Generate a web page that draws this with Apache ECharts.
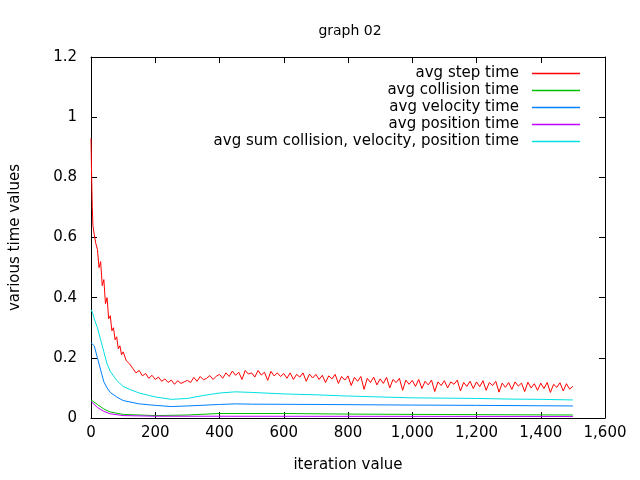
<!DOCTYPE html>
<html lang="en">
<head>
<meta charset="utf-8">
<title>graph 02</title>
<script src="https://cdn.jsdelivr.net/npm/echarts@6/dist/echarts.min.js"></script>
</head>
<body style="margin:0">
<div id="container" style="width:640px;height:480px"></div>
<script type="text/javascript">
	var seriesNames = ['avg step time', 'avg collision time', 'avg velocity time', 'avg position time', 'avg sum collision, velocity, position time'];
	var seriesColors = ['#ff0000', '#00c000', '#0080ff', '#c000ff', '#00e0e0'];

	// step time, start of the run (irregular sampling)
	var stepHeadX = [0, 2, 4, 6, 10, 15, 20, 25, 30, 35, 40, 45, 50, 55, 60, 65, 70, 75, 80, 85, 90, 95, 100, 110, 120, 130, 140, 150, 160, 170, 180, 190, 200, 210, 220, 230, 240, 250, 260, 270, 280, 290];
	var stepHeadY = [0.93, 0.80, 0.70, 0.64, 0.61, 0.58, 0.56, 0.50, 0.52, 0.44, 0.46, 0.38, 0.40, 0.33, 0.34, 0.29, 0.30, 0.26, 0.27, 0.23, 0.24, 0.21, 0.22, 0.19, 0.18, 0.165, 0.15, 0.158, 0.14, 0.148, 0.132, 0.142, 0.128, 0.136, 0.122, 0.130, 0.118, 0.126, 0.112, 0.124, 0.115, 0.120];
	// step time from 300 to 1500, one value every 10 iterations
	var stepTailY = [
		0.125, 0.118, 0.135, 0.122, 0.138, 0.127, 0.132, 0.141, 0.128, 0.139,
		0.145, 0.132, 0.150, 0.138, 0.156, 0.142, 0.152, 0.128, 0.158, 0.146,
		0.150, 0.136, 0.158, 0.143, 0.152, 0.125, 0.155, 0.140, 0.150, 0.138,
		0.148, 0.132, 0.150, 0.128, 0.145, 0.136, 0.150, 0.122, 0.146, 0.133,
		0.145, 0.128, 0.142, 0.118, 0.140, 0.130, 0.145, 0.115, 0.138, 0.126,
		0.140, 0.108, 0.135, 0.122, 0.138, 0.095, 0.132, 0.118, 0.136, 0.110,
		0.130, 0.115, 0.135, 0.100, 0.128, 0.118, 0.132, 0.092, 0.126, 0.112,
		0.125, 0.105, 0.128, 0.098, 0.122, 0.110, 0.126, 0.088, 0.120, 0.108,
		0.124, 0.100, 0.120, 0.112, 0.126, 0.090, 0.118, 0.105, 0.122, 0.098,
		0.120, 0.104, 0.124, 0.092, 0.118, 0.108, 0.122, 0.086, 0.116, 0.102,
		0.118, 0.095, 0.120, 0.106, 0.116, 0.088, 0.119, 0.100, 0.114, 0.092,
		0.116, 0.098, 0.118, 0.085, 0.112, 0.102, 0.117, 0.090, 0.114, 0.096,
		0.105
	];

	var sumX = [0, 5, 10, 20, 30, 40, 50, 60, 70, 80, 90, 100, 120, 150, 200, 250, 300, 350, 400, 450, 500, 600, 700, 800, 900, 1000, 1100, 1200, 1300, 1400, 1500];
	var sumY = [0.36, 0.35, 0.33, 0.30, 0.26, 0.22, 0.18, 0.155, 0.14, 0.125, 0.115, 0.105, 0.095, 0.083, 0.070, 0.062, 0.065, 0.075, 0.083, 0.087, 0.085, 0.080, 0.077, 0.073, 0.070, 0.067, 0.066, 0.065, 0.063, 0.062, 0.060];

	var velX = [0, 5, 10, 20, 30, 40, 50, 60, 80, 100, 150, 200, 250, 300, 400, 450, 500, 700, 1000, 1200, 1500];
	var velY = [0.25, 0.245, 0.24, 0.20, 0.16, 0.12, 0.10, 0.085, 0.070, 0.058, 0.047, 0.042, 0.038, 0.040, 0.045, 0.047, 0.046, 0.045, 0.043, 0.042, 0.040];

	var colX = [0, 20, 40, 60, 100, 200, 300, 400, 600, 800, 1000, 1500];
	var colY = [0.06, 0.045, 0.030, 0.020, 0.012, 0.008, 0.010, 0.015, 0.015, 0.013, 0.012, 0.010];

	var posX = [0, 20, 40, 60, 100, 200, 1500];
	var posY = [0.055, 0.035, 0.022, 0.014, 0.008, 0.006, 0.005];

	var yTicks = [0, 0.2, 0.4, 0.6, 0.8, 1, 1.2];

	function pairs(xs, ys) {
		return xs.map(function (x, i) { return [x, ys[i]]; });
	}

	var stepData = pairs(stepHeadX, stepHeadY);
	for (var i = 0; i < stepTailY.length; i++) {
		stepData.push([300 + i * 10, stepTailY[i]]);
	}

	var font = 'DejaVu Sans';
	var axisBase = {
		axisLine: { show: true, onZero: false, lineStyle: { color: '#000' } },
		axisTick: { show: true, inside: true, length: 6, lineStyle: { color: '#000' } },
		splitLine: { show: false }
	};

	var myChart = echarts.init(document.getElementById('container'));
	var option = {
		animation: false,
		backgroundColor: '#fff',
		textStyle: { fontFamily: font },
		title: {
			text: 'graph 02', left: 345, top: 19, textAlign: 'center',
			textStyle: { fontFamily: font, fontSize: 14, fontWeight: 'normal', color: '#000' }
		},
		legend: {
			orient: 'vertical', right: 55, top: 61, align: 'right',
			icon: 'rect', itemWidth: 48, itemHeight: 1.5, itemGap: 2,
			textStyle: { fontFamily: font, fontSize: 15, color: '#000', padding: [0, 8, 0, 0] },
			data: seriesNames
		},
		grid: { left: 91, right: 35, top: 57, bottom: 62 },
		xAxis: [
			Object.assign({
				type: 'value', min: 0, max: 1600, interval: 200,
				name: 'iteration value', nameLocation: 'middle', nameGap: 40,
				nameTextStyle: { fontFamily: font, fontSize: 15, color: '#000' },
				axisLabel: { fontFamily: font, fontSize: 15, color: '#000', margin: 8, formatter: '{value}' }
			}, axisBase),
			Object.assign({
				type: 'value', min: 0, max: 1600, interval: 200, position: 'top',
				axisLabel: { show: false }
			}, axisBase)
		],
		yAxis: [
			Object.assign({
				type: 'value', min: 0, max: 1.2, interval: 0.2,
				name: 'various time values', nameLocation: 'middle', nameGap: 68,
				nameTextStyle: { fontFamily: font, fontSize: 15, color: '#000' },
				axisLabel: {
					fontFamily: font, fontSize: 15, color: '#000', margin: 14,
					formatter: function (v) {
						var t = yTicks.find(function (k) { return Math.abs(k - v) < 1e-9; });
						return t === undefined ? '' : String(t);
					}
				}
			}, axisBase),
			Object.assign({
				type: 'value', min: 0, max: 1.2, interval: 0.2, position: 'right',
				axisLabel: { show: false }
			}, axisBase)
		],
		series: [
			{ name: seriesNames[0], data: stepData },
			{ name: seriesNames[1], data: pairs(colX, colY) },
			{ name: seriesNames[2], data: pairs(velX, velY) },
			{ name: seriesNames[3], data: pairs(posX, posY) },
			{ name: seriesNames[4], data: pairs(sumX, sumY) }
		].map(function (s, i) {
			return Object.assign(s, {
				type: 'line', showSymbol: false, color: seriesColors[i],
				lineStyle: { width: 1, color: seriesColors[i] }
			});
		})
	};
	myChart.setOption(option);
</script>
</body>
</html>
